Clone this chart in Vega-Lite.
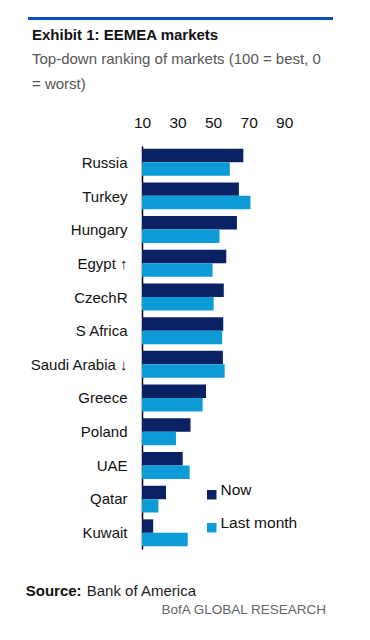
{
  "$schema": "https://vega.github.io/schema/vega-lite/v6.json",
  "padding": {"left": 25, "top": 15, "right": 5, "bottom": 5},
  "background": "white",
  "spacing": 6,
  "bounds": "full",
  "title": {
    "text": "BofA GLOBAL RESEARCH",
    "orient": "bottom",
    "anchor": "end",
    "font": "Liberation Sans",
    "fontSize": 13.5,
    "fontWeight": "normal",
    "color": "#666666",
    "offset": 4,
    "dx": -7
  },
  "config": {
    "view": {"stroke": null},
    "font": "Liberation Sans"
  },
  "datasets": {
    "markets": [
      {"country": "Russia", "series": "Now", "value": 67},
      {"country": "Russia", "series": "Last month", "value": 59.4},
      {"country": "Turkey", "series": "Now", "value": 64.5},
      {"country": "Turkey", "series": "Last month", "value": 71},
      {"country": "Hungary", "series": "Now", "value": 63.4},
      {"country": "Hungary", "series": "Last month", "value": 53.6},
      {"country": "Egypt ↑", "series": "Now", "value": 57.4},
      {"country": "Egypt ↑", "series": "Last month", "value": 49.7},
      {"country": "CzechR", "series": "Now", "value": 56},
      {"country": "CzechR", "series": "Last month", "value": 50.3},
      {"country": "S Africa", "series": "Now", "value": 55.7},
      {"country": "S Africa", "series": "Last month", "value": 55.1},
      {"country": "Saudi Arabia ↓", "series": "Now", "value": 55.5},
      {"country": "Saudi Arabia ↓", "series": "Last month", "value": 56.5},
      {"country": "Greece", "series": "Now", "value": 46},
      {"country": "Greece", "series": "Last month", "value": 44.1},
      {"country": "Poland", "series": "Now", "value": 37.3},
      {"country": "Poland", "series": "Last month", "value": 29.1},
      {"country": "UAE", "series": "Now", "value": 32.9},
      {"country": "UAE", "series": "Last month", "value": 36.8},
      {"country": "Qatar", "series": "Now", "value": 23.5},
      {"country": "Qatar", "series": "Last month", "value": 19.2},
      {"country": "Kuwait", "series": "Now", "value": 16.3},
      {"country": "Kuwait", "series": "Last month", "value": 35.7}
    ]
  },
  "vconcat": [
    {
      "width": 305,
      "height": 3,
      "view": {"fill": "#0b4fb5", "stroke": null},
      "data": {"values": [{}]},
      "mark": {"type": "point", "opacity": 0},
      "encoding": {}
    },
    {
      "title": {
        "text": "Exhibit 1: EEMEA markets",
        "subtitle": ["Top-down ranking of markets (100 = best, 0", "= worst)"],
        "anchor": "start",
        "font": "Liberation Sans",
        "fontSize": 15,
        "fontWeight": "bold",
        "color": "#111111",
        "subtitleFont": "Liberation Sans",
        "subtitleFontSize": 15,
        "subtitleColor": "#555555",
        "subtitleLineHeight": 25,
        "subtitlePadding": 9,
        "offset": 23,
        "dx": 4
      },
      "bounds": "flush",
      "spacing": 12,
      "hconcat": [
        {
          "width": 102,
          "height": 403,
          "data": {"name": "markets"},
          "mark": {"type": "point", "opacity": 0},
          "encoding": {
            "y": {
              "field": "country",
              "type": "nominal",
              "sort": null,
              "scale": {"paddingInner": 0.2, "paddingOuter": 0.08},
              "axis": {
                "orient": "right",
                "title": null,
                "ticks": false,
                "domain": false,
                "grid": false,
                "labelAlign": "right",
                "labelPadding": -3,
                "labelFontSize": 15,
                "labelColor": "#111111",
                "labelLimit": 200
              }
            }
          }
        },
        {
          "width": 160,
          "height": 403,
          "data": {"name": "markets"},
          "mark": {"type": "bar", "clip": true},
          "encoding": {
            "y": {
              "field": "country",
              "type": "nominal",
              "sort": null,
              "scale": {"paddingInner": 0.2, "paddingOuter": 0.08},
              "axis": {
                "title": null,
                "ticks": false,
                "labels": false,
                "grid": false,
                "domain": true,
                "domainColor": "#000000",
                "domainWidth": 1.5
              }
            },
            "yOffset": {
              "field": "series",
              "type": "nominal",
              "sort": ["Now", "Last month"],
              "scale": {"paddingInner": 0, "paddingOuter": 0}
            },
            "x": {
              "field": "value",
              "type": "quantitative",
              "scale": {"domain": [10, 100], "nice": false, "zero": false},
              "axis": {
                "orient": "top",
                "title": null,
                "values": [10, 30, 50, 70, 90],
                "ticks": false,
                "domain": false,
                "grid": false,
                "labelFontSize": 15.5,
                "labelColor": "#111111",
                "labelPadding": 16,
                "labelFlush": false
              }
            },
            "color": {
              "field": "series",
              "type": "nominal",
              "scale": {"domain": ["Now", "Last month"], "range": ["#0a2164", "#0d9bd8"]},
              "legend": {
                "title": null,
                "orient": "none",
                "legendX": 176,
                "legendY": 470,
                "symbolType": "square",
                "symbolSize": 90,
                "symbolStrokeWidth": 0,
                "labelFontSize": 15.5,
                "labelColor": "#111111",
                "labelBaseline": "alphabetic",
                "rowPadding": 15,
                "labelOffset": 1
              }
            }
          }
        }
      ]
    },
    {
      "spacing": 4,
      "hconcat": [
        {
          "width": 1,
          "height": 1,
          "title": {
            "text": "Source:",
            "orient": "bottom",
            "anchor": "start",
            "fontSize": 15,
            "fontWeight": "bold",
            "color": "#111111",
            "offset": 23
          },
          "data": {"values": [{}]},
          "mark": {"type": "point", "opacity": 0},
          "encoding": {}
        },
        {
          "width": 1,
          "height": 1,
          "title": {
            "text": "Bank of America",
            "orient": "bottom",
            "anchor": "start",
            "fontSize": 15,
            "fontWeight": "normal",
            "color": "#222222",
            "offset": 23
          },
          "data": {"values": [{}]},
          "mark": {"type": "point", "opacity": 0},
          "encoding": {}
        }
      ]
    }
  ]
}
